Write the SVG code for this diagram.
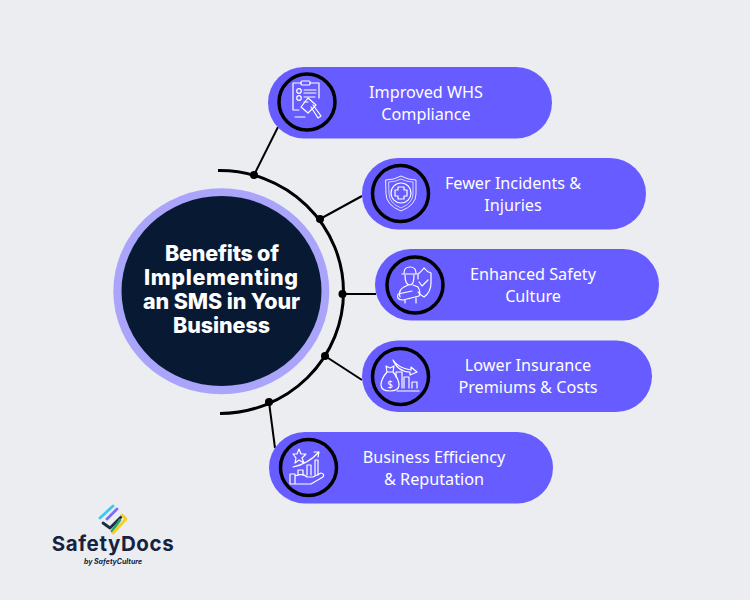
<svg xmlns="http://www.w3.org/2000/svg" width="750" height="600" viewBox="0 0 750 600">
<style>
.pill{fill:#665cff}
.ring{fill:none;stroke:#000;stroke-width:3.5}
.link{fill:none;stroke:#000;stroke-width:2}
.dot{fill:#000}
.lbl{font-family:"Noto Sans",sans-serif;font-size:16.2px;fill:#fff;text-anchor:middle}
.title{font-family:Inter,sans-serif;font-weight:800;font-size:21.5px;fill:#fff;text-anchor:middle}
.ic{fill:none;stroke:#fff;stroke-width:1.2;stroke-linejoin:round;stroke-linecap:round}
</style>
<rect width="750" height="600" fill="#ebedf1"/>
<g id="connectors">
<path d="M218 170.500A124 121.500 0 0 1 343.500 292A124 121.500 0 0 1 220 413.500" fill="none" stroke="#000" stroke-width="3"/>
<path class="link" d="M254 175L278 127"/>
<path class="link" d="M320 219L362 196"/>
<path class="link" d="M342 294L376 294"/>
<path class="link" d="M325 356L362 380"/>
<path class="link" d="M269 402L275 448"/>
<circle class="dot" cx="254" cy="175" r="4"/>
<circle class="dot" cx="320" cy="219" r="4"/>
<circle class="dot" cx="342.500" cy="294" r="4"/>
<circle class="dot" cx="325" cy="356" r="4"/>
<circle class="dot" cx="269" cy="402" r="4"/>
</g>
<g id="center">
<ellipse cx="221.300" cy="291.300" rx="108" ry="103" fill="#aaa4fb"/>
<ellipse cx="221.500" cy="291" rx="100" ry="95" fill="#081a33"/>
<text class="title" x="222" y="261" textLength="114">Benefits of</text>
<text class="title" x="221" y="285" textLength="154">Implementing</text>
<text class="title" x="221.500" y="309" textLength="157">an SMS in Your</text>
<text class="title" x="221.500" y="333" textLength="97">Business</text>
</g>
<g id="node1">
<rect class="pill" x="268" y="67" width="284" height="71.500" rx="35.750"/>
<circle class="ring" cx="307" cy="102" r="28"/>
<g class="ic">
<path d="M310 83H319V98M301 83H293V110H299"/>
<rect x="301" y="81" width="9" height="4" rx="1"/>
<circle cx="299" cy="91" r="2.300"/><circle cx="299" cy="98" r="2.300"/>
<path d="M304 90H316M304 93H316M304 97H315M304 102H308"/>
<path d="M301 107L308 98L316 105L308 113ZM311 107L318 118L321 116L313 105"/>
<path d="M295 117H305"/>
</g>
<text class="lbl" x="426" y="98">Improved WHS</text>
<text class="lbl" x="426" y="120">Compliance</text>
</g>
<g id="node2">
<rect class="pill" x="362" y="158" width="284" height="71.500" rx="35.750"/>
<circle class="ring" cx="400.500" cy="193.500" r="28"/>
<g class="ic">
<path d="M386 180Q394 180 401 176Q408 180 416 180V194Q416 205 401 211Q386 205 386 194Z" stroke-width=".9"/>
<path d="M389 182Q395 182 401 179Q407 182 413 182V194Q413 203 401 208Q389 203 389 194Z" stroke-width=".7"/>
<circle cx="401" cy="193" r="10"/>
<path d="M398 187H404V190H407V196H404V199H398V196H395V190H398Z"/>
</g>
<text class="lbl" x="513" y="189">Fewer Incidents &amp;</text>
<text class="lbl" x="513" y="211">Injuries</text>
</g>
<g id="node3">
<rect class="pill" x="375" y="249" width="284" height="71.500" rx="35.750"/>
<circle class="ring" cx="415" cy="285" r="28"/>
<g class="ic">
<path d="M404 273Q404 267 410 267Q416 267 416 273M402 274H417"/>
<path d="M405 275Q405 285 410 285Q414 285 414 275"/>
<path d="M400 297Q398 290 404 287L408 285M413 285L418 287Q421 292 419 296L403 300Q396 300 398 294L412 291M405 300V303M416 298V303"/>
<path d="M424 268Q427 272 431 273V283Q431 292 424 297Q420 295 418 292M424 268Q421 272 418 274V279"/>
<path d="M419 282L422 286L428 280"/>
</g>
<text class="lbl" x="533" y="280">Enhanced Safety</text>
<text class="lbl" x="533" y="302">Culture</text>
</g>
<g id="node4">
<rect class="pill" x="362" y="340.500" width="290" height="71.500" rx="35.750"/>
<circle class="ring" cx="400.500" cy="376.500" r="28"/>
<g class="ic">
<path d="M386 366L390 368L394 366L393 372H387ZM387 372Q381 379 381 385Q381 391 390 391Q399 391 399 385Q399 379 393 372"/>
<path d="M397 391H419M396 377V372H402V388M404 388V377H409V388M412 388V382H417V388"/>
<path d="M393 360Q398 368 411 370V367L417 372L410 375V372Q398 372 393 360"/>
</g>
<text x="390" y="388" font-family="Noto Sans,sans-serif" font-size="10" fill="#fff" text-anchor="middle">$</text>
<text class="lbl" x="528" y="371">Lower Insurance</text>
<text class="lbl" x="528" y="393">Premiums &amp; Costs</text>
</g>
<g id="node5">
<rect class="pill" x="269" y="432" width="284" height="71.500" rx="35.750"/>
<circle class="ring" cx="308.500" cy="467.500" r="28"/>
<g class="ic">
<path d="M299 449L301 454L306 454L302 458L304 463L299 460L295 463L296 458L293 454L297 454Z"/>
<path d="M293 467Q308 464 319 452M314 452H319L318 457"/>
<path d="M298 475V470H303V475M307 475V465H311V475M315 475V460H318V475"/>
<path d="M290 474H295V484H290ZM295 476Q303 473 307 477H313L321 473Q325 474 323 477L311 484H295"/>
</g>
<text class="lbl" x="434" y="463">Business Efficiency</text>
<text class="lbl" x="434" y="485">&amp; Reputation</text>
</g>
<g id="logo">
<g fill="none" stroke-width="2.800" stroke-linecap="round" stroke-linejoin="round">
<path d="M100 518L113 506" stroke="#3cc8f0"/>
<path d="M107 519L117 509" stroke="#7a6cf5"/>
<path d="M103 523L110 528L121 517" stroke="#1d2b45"/>
<path d="M112 531L120 520" stroke="#2fa35f"/>
<path d="M113 533L126 519L122 515" stroke="#f5cd2a"/>
</g>
<text x="113" y="551" font-family="Inter,sans-serif" font-weight="700" font-size="20.500" fill="#14233f" text-anchor="middle" letter-spacing=".6">SafetyDocs</text>
<text x="113" y="564" font-family="Inter,sans-serif" font-weight="700" font-style="italic" font-size="7" fill="#14233f" text-anchor="middle">by SafetyCulture</text>
</g>
</svg>
